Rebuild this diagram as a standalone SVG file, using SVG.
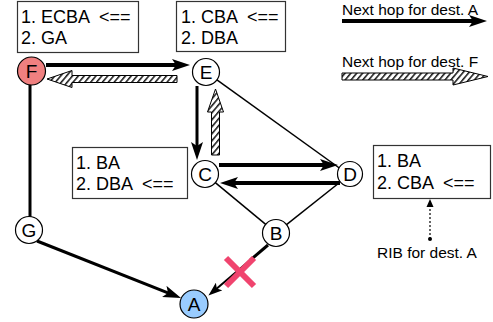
<svg xmlns="http://www.w3.org/2000/svg" width="493" height="322" viewBox="0 0 493 322">
<defs>
<style>
.box{fill:#fff;stroke:#333;stroke-width:1.2}
.t{font-family:"Liberation Sans",Arial,sans-serif;font-size:18px;fill:#000}
.lg{font-family:"Liberation Sans",Arial,sans-serif;font-size:15.5px;fill:#000}
.nd{fill:#fff;stroke:#000;stroke-width:1.2}
.nt{font-family:"Liberation Sans",Arial,sans-serif;font-size:19px;fill:#000;text-anchor:middle}
.thick{stroke:#000;stroke-width:4;fill:none}
.med{stroke:#000;stroke-width:3;fill:none}
.thin{stroke:#000;stroke-width:1.5;fill:none}
.hat{fill:url(#hatch);stroke:#000;stroke-width:1}
</style>
<pattern id="hatch" patternUnits="userSpaceOnUse" width="4.5" height="4.5" patternTransform="rotate(40)">
<rect width="4.5" height="4.5" fill="#fff"/>
<line x1="0.8" y1="0" x2="0.8" y2="4.5" stroke="#000" stroke-width="1.4"/>
</pattern>
<marker id="ah" markerUnits="userSpaceOnUse" viewBox="0 0 18 12" refX="10" refY="6" markerWidth="18" markerHeight="12" orient="auto">
<path d="M0,0 L18,6 L0,12 L4,6 Z" fill="#000"/>
</marker>
<marker id="ahs" markerUnits="userSpaceOnUse" viewBox="0 0 14 10" refX="8" refY="5" markerWidth="14" markerHeight="10" orient="auto">
<path d="M0,0 L14,5 L0,10 L3,5 Z" fill="#000"/>
</marker>
</defs>
<rect width="493" height="322" fill="#fff"/>

<g id="ribs">
<g id="rib-F"><rect class="box" x="17.5" y="1.5" width="121" height="51"/>
<text class="t" x="21" y="23" xml:space="preserve">1. ECBA  &lt;==</text>
<text class="t" x="21" y="44">2. GA</text></g>
<g id="rib-E"><rect class="box" x="176.5" y="1.5" width="109" height="50"/>
<text class="t" x="181" y="23" xml:space="preserve">1. CBA  &lt;==</text>
<text class="t" x="181" y="44">2. DBA</text></g>
<g id="rib-C"><rect class="box" x="72.5" y="147.5" width="115" height="51"/>
<text class="t" x="76" y="169">1. BA</text>
<text class="t" x="76" y="190" xml:space="preserve">2. DBA  &lt;==</text></g>
<g id="rib-D"><rect class="box" x="373.5" y="145.5" width="117" height="53"/>
<text class="t" x="377" y="167">1. BA</text>
<text class="t" x="377" y="189" xml:space="preserve">2. CBA  &lt;==</text></g>
</g>

<g id="legend">
<text class="lg" x="342" y="15">Next hop for dest. A</text>
<line class="thick" x1="342" y1="21" x2="479" y2="21" marker-end="url(#ah)"/>
<text class="lg" x="342" y="67">Next hop for dest. F</text>
<polygon class="hat" points="342,73 453,73 453,68 488,76.5 453,85 453,80 342,80"/>
<text class="lg" x="377" y="258">RIB for dest. A</text>
<line x1="430" y1="239" x2="430" y2="207" stroke="#000" stroke-width="1.2" stroke-dasharray="2,2"/>
<path d="M430,199 L433.5,207 L426.5,207 Z" fill="#000"/>
<circle cx="430" cy="239" r="2" fill="#000"/>
</g>

<g id="connectors">
<line class="thin" x1="216.6" y1="79.6" x2="339.3" y2="168"/>
<line class="thin" x1="215" y1="182.3" x2="266" y2="224.7"/>
<line class="thin" x1="339.6" y1="182.5" x2="286.2" y2="224.9"/>
<line class="med" x1="30" y1="84" x2="30" y2="217"/>
<line class="thick" x1="46" y1="65" x2="182" y2="65" marker-end="url(#ah)"/>
<polygon class="hat" points="177,75.5 72,75.5 72,70.5 47,79 72,87.5 72,82.5 177,82.5"/>
<line class="med" x1="197" y1="86" x2="197" y2="152" marker-end="url(#ah)"/>
<polygon class="hat" points="211.5,155 211.5,112 207.5,112 215.5,89 223.5,112 219.5,112 219.5,155"/>
<line class="thick" x1="219" y1="165" x2="330" y2="165" marker-end="url(#ah)"/>
<line class="thick" x1="340" y1="183" x2="228" y2="183" marker-end="url(#ah)"/>
<line class="med" x1="37" y1="241" x2="173.6" y2="295.1" marker-end="url(#ah)"/>
<line class="med" x1="268" y1="245" x2="250" y2="260.3"/>
<line stroke="#000" stroke-width="2" x1="250" y1="260.3" x2="213" y2="291.7" marker-end="url(#ahs)"/>
<g id="failure" stroke="#f0446e" stroke-width="6">
<line x1="226" y1="258" x2="254" y2="286"/>
<line x1="254" y1="258" x2="226" y2="286"/>
</g>
</g>

<g id="node-F"><circle cx="31.5" cy="71" r="14" fill="#f08080" stroke="#000" stroke-width="1.2"/><text class="nt" x="31.5" y="78">F</text></g>
<g id="node-E"><circle class="nd" cx="206" cy="72" r="13.5"/><text class="nt" x="206" y="79">E</text></g>
<g id="node-C"><circle class="nd" cx="205" cy="174" r="13.5"/><text class="nt" x="205" y="181">C</text></g>
<g id="node-D"><circle class="nd" cx="350" cy="174" r="12.5"/><text class="nt" x="350" y="181">D</text></g>
<g id="node-B"><circle class="nd" cx="276" cy="233" r="13.5"/><text class="nt" x="276" y="240">B</text></g>
<g id="node-G"><circle class="nd" cx="29" cy="230" r="13.5"/><text class="nt" x="29" y="237">G</text></g>
<g id="node-A"><circle cx="194" cy="304" r="14" fill="#99ccff" stroke="#000" stroke-width="1.2"/><text class="nt" x="194" y="311">A</text></g>
</svg>
